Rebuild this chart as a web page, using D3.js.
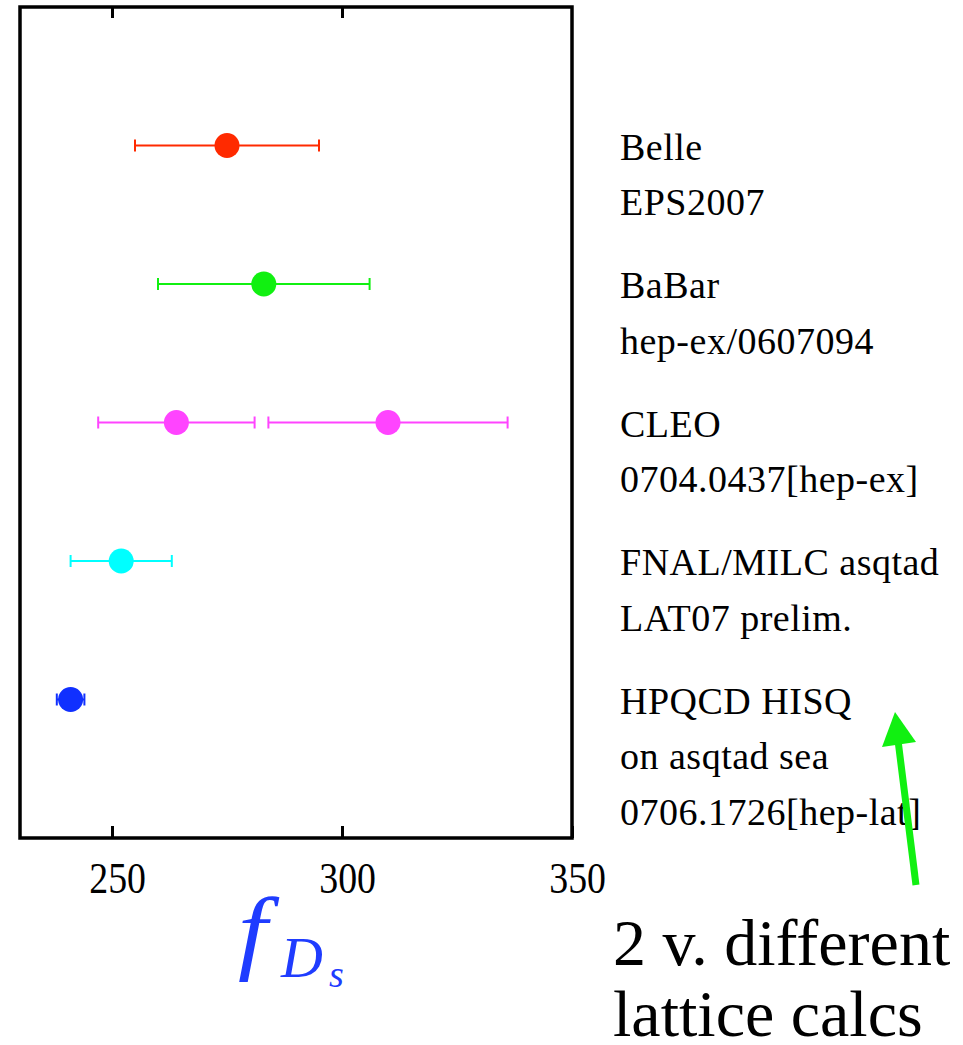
<!DOCTYPE html>
<html>
<head>
<meta charset="utf-8">
<script src="https://cdn.jsdelivr.net/npm/d3@7"></script>
<style>
  body { margin: 0; background: #fff; }
  text { font-family: "Liberation Serif", "Times New Roman", serif; }
</style>
</head>
<body>
<svg id="chart"></svg>
<script>
// measurements, one entry per point (CLEO has two)
var rowIndex = [0, 1, 2, 2, 3, 4];
var fdsValue = [275, 283, 264, 310, 252, 241];
var fdsError = [20, 23, 17, 26, 11, 3];
var pointColor = ["#ff2a00", "#11f011", "#ff44ff", "#ff44ff", "#00ffff", "#1030ff"];

var rowLabels = [
  ["Belle", "EPS2007"],
  ["BaBar", "hep-ex/0607094"],
  ["CLEO", "0704.0437[hep-ex]"],
  ["FNAL/MILC asqtad", "LAT07 prelim."],
  ["HPQCD HISQ", "on asqtad sea", "0706.1726[hep-lat]"]
];
var xTicks = [250, 300, 350];

var drawChart = function()
{
  var width = 963;
  var height = 1045;
  var plotLeft = 20, plotRight = 572, plotTop = 7, plotBottom = 838;

  var svg = d3.select("#chart")
              .attr("width", width)
              .attr("height", height);

  var x = d3.scaleLinear().domain([230, 350]).range([plotLeft, plotRight]);
  var y = d3.scaleLinear().domain([-1, 5]).range([plotTop, plotBottom]);

  // bottom axis, ticks pointing in
  var xAxis = d3.axisBottom(x).tickValues(xTicks).tickSizeInner(-12).tickSizeOuter(0).tickPadding(24);
  var gx = svg.append("g")
    .attr("transform", "translate(0," + plotBottom + ")")
    .call(xAxis);
  gx.select(".domain").remove();
  gx.selectAll("line").attr("stroke", "#000").attr("stroke-width", 3);
  gx.selectAll("text")
    .attr("font-size", 44)
    .attr("font-family", "Liberation Serif, serif")
    .attr("fill", "#000")
    .attr("transform", "scale(0.86,1)")
    .attr("x", 6);

  // top axis ticks only
  var gTop = svg.append("g")
    .attr("transform", "translate(0," + plotTop + ")")
    .call(d3.axisTop(x).tickValues([250, 300]).tickSizeInner(-11).tickSizeOuter(0).tickFormat(""));
  gTop.select(".domain").remove();
  gTop.selectAll("line").attr("stroke", "#000").attr("stroke-width", 3);

  // frame
  svg.append("rect")
    .attr("x", plotLeft).attr("y", plotTop)
    .attr("width", plotRight - plotLeft).attr("height", plotBottom - plotTop)
    .attr("fill", "none")
    .attr("stroke", "#000")
    .attr("stroke-width", 3.5);

  var idx = d3.range(fdsValue.length);

  // error bars
  var bars = svg.append("g").selectAll("g")
    .data(idx)
    .enter()
    .append("g")
    .attr("stroke", function(i) { return pointColor[i]; })
    .attr("stroke-width", 2);

  bars.append("line")
    .attr("x1", function(i) { return x(fdsValue[i] - fdsError[i]); })
    .attr("x2", function(i) { return x(fdsValue[i] + fdsError[i]); })
    .attr("y1", function(i) { return y(rowIndex[i]); })
    .attr("y2", function(i) { return y(rowIndex[i]); });

  bars.append("line")
    .attr("x1", function(i) { return x(fdsValue[i] - fdsError[i]); })
    .attr("x2", function(i) { return x(fdsValue[i] - fdsError[i]); })
    .attr("y1", function(i) { return y(rowIndex[i]) - 6; })
    .attr("y2", function(i) { return y(rowIndex[i]) + 6; });

  bars.append("line")
    .attr("x1", function(i) { return x(fdsValue[i] + fdsError[i]); })
    .attr("x2", function(i) { return x(fdsValue[i] + fdsError[i]); })
    .attr("y1", function(i) { return y(rowIndex[i]) - 6; })
    .attr("y2", function(i) { return y(rowIndex[i]) + 6; });

  svg.append("g").selectAll("circle")
    .data(idx)
    .enter()
    .append("circle")
    .attr("cx", function(i) { return x(fdsValue[i]); })
    .attr("cy", function(i) { return y(rowIndex[i]); })
    .attr("r", 12.5)
    .attr("fill", function(i) { return pointColor[i]; });

  // labels to the right of the frame
  var labels = svg.append("g").selectAll("text")
    .data(rowLabels)
    .enter()
    .append("text")
    .attr("x", 620)
    .attr("y", function(d, i) { return y(i) + 14; })
    .attr("font-size", 38)
    .attr("letter-spacing", 0.5)
    .attr("fill", "#000");

  labels.selectAll("tspan")
    .data(function(d) { return d; })
    .enter()
    .append("tspan")
    .attr("x", 620)
    .attr("dy", function(d, j) { return j == 0 ? 0 : 55.5; })
    .text(function(d) { return d; });

  // axis title f_{D_s}
  var blue = "#1f3cff";
  svg.append("text")
    .attr("transform", "translate(238,962) scale(1.12,1)")
    .attr("fill", blue)
    .attr("font-style", "italic")
    .attr("font-size", 94)
    .text("f");
  svg.append("text")
    .attr("x", 281).attr("y", 977)
    .attr("fill", blue)
    .attr("font-style", "italic")
    .attr("font-size", 58)
    .text("D");
  svg.append("text")
    .attr("x", 329).attr("y", 987)
    .attr("fill", blue)
    .attr("font-style", "italic")
    .attr("font-size", 38)
    .text("s");

  // green arrow
  svg.append("line")
    .attr("x1", 916).attr("y1", 885)
    .attr("x2", 898).attr("y2", 740)
    .attr("stroke", "#11f011")
    .attr("stroke-width", 7);
  svg.append("path")
    .attr("d", "M895,712 L882,747 L916,742 Z")
    .attr("fill", "#11f011");

  // note
  svg.append("text")
    .attr("x", 613).attr("y", 965)
    .attr("font-size", 66)
    .attr("fill", "#000")
    .text("2 v. different");
  svg.append("text")
    .attr("x", 613).attr("y", 1036)
    .attr("font-size", 66)
    .attr("fill", "#000")
    .text("lattice calcs");
}

drawChart();
</script>
</body>
</html>
